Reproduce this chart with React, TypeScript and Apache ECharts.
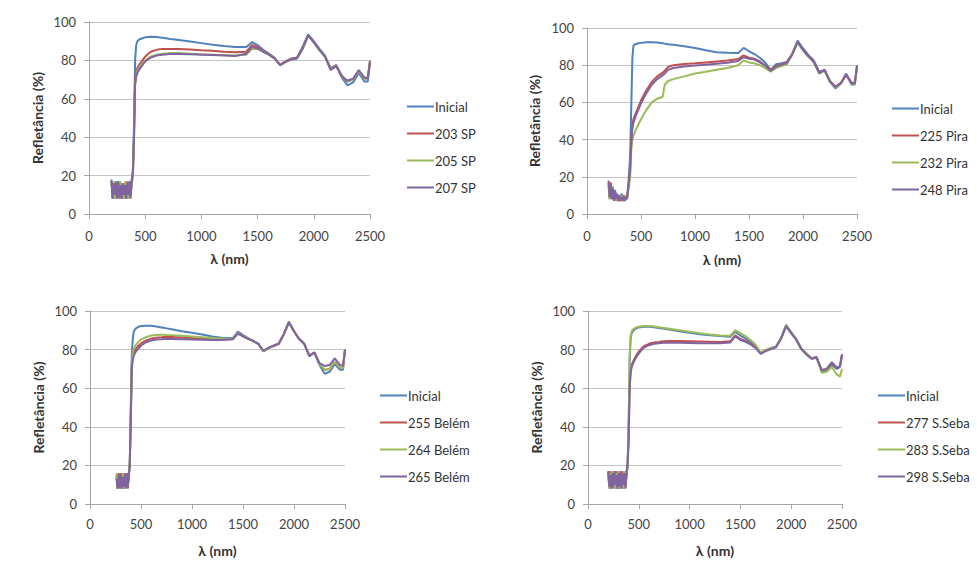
import React, { useEffect, useRef } from "react";
import * as echarts from "echarts";

const WL = [200,210,220,230,240,250,260,270,280,290,300,310,320,330,340,350,360,370,380,390,400,
  410,420,430,450,475,500,550,600,650,700,720,750,800,900,1000,1100,1200,1300,1400,1450,
  1500,1550,1600,1650,1700,1750,1800,1850,1900,1950,2000,2050,2100,2150,2200,2250,2300,2350,2400,2450,2480,2500];

const X_TICKS = [0, 500, 1000, 1500, 2000, 2500];
const Y_TICKS = [0, 20, 40, 60, 80, 100];

// Panel 1 - SP
const spInicial = [18,8,16,9,17,8,15,9,16,8,15,9,16,8,15,9,17,10,18,22, 45, 80,88,90,91,91.5,92,92.3,92.2,91.8,91.4,91.2,91,90.6,89.8,89,88.2,87.5,87,87,89.5, 88,85.5,83.5,81.5,77.5,79.5,81,81.5,87,93.5,90,86,82.5,76,77.5,71,67,68.5,73.5,69,69,79];
const sp203 = [17,9,15,8,16,9,17,8,15,10,16,8,15,9,17,8,16,9,17,20, 40, 70,74,76,78,80,82,84.5,85.5,86,86,86,86,86,85.7,85.3,85,84.5,84.2,84.5,88, 87,85,83.2,81.2,77.8,79.5,80.8,81.2,86.5,93,89.5,85.5,82,75.5,77.5,72,69,70,74.5,71,71,80];
const sp205 = [16,10,17,8,15,9,16,10,17,9,16,8,17,10,16,8,15,10,16,19, 38, 68,72,74.5,76.5,78.5,80,82,83,83.5,83.7,83.8,83.8,83.8,83.5,83.2,83,82.8,82.5,83,86, 86,84.5,83,81,77.5,79.2,80.5,81,86,92.8,89.3,85.3,82,75.2,77.2,71.5,69,70,74.5,70.5,70.5,79.5];
const sp207 = [17,8,16,10,15,8,17,9,15,8,16,10,15,8,16,10,17,8,17,21, 38, 67,71.5,73.5,75.5,77.5,79.5,81.5,82.5,83,83.2,83.3,83.3,83.3,83.2,83,82.8,82.6,82.3,83.5,87, 86.3,84.5,83,81,77.5,79.2,80.5,81,86,93,89.5,85.5,82,75,77,71.5,69.5,70.5,75,71,70.5,79.5];

// Panel 2 - Pira
const piraInicial = [17,8,15,9,14,7,13,8,10,7,9,7,11,8,9,7,8,9,14,22, 32, 58,84,90.5,91.3,91.8,92,92.3,92.4,92.2,91.8,91.6,91.3,91,90.2,89.3,88,87,86.7,86.5,89.3, 87.5,86,84,81.5,77.3,80.5,81,81.7,86,93.2,89,85.5,82.5,76.5,77.5,71,67.5,70,75.5,69.5,70,80];
const pira225 = [15,9,17,8,13,8,12,7,9,8,10,7,9,8,10,8,9,8,13,18, 25, 40,48,51,54,57.5,61,66.5,71,74,76,77,79,80,80.7,81,81.5,82,82.5,83.3,85.3, 84,83.5,82,80,77.5,79.5,80.5,81.5,86,92.5,88.5,85,82,76,77.5,71.5,68.5,70.5,75,70.5,70.5,79.5];
const pira232 = [16,8,14,9,15,8,11,7,10,8,9,8,10,7,9,8,10,9,12,16, 20, 35,40,42,45,48,51,56,60,62,63,69.5,71.5,72.5,74,75.5,76.5,77.5,78.5,80,82.5, 81.5,81,80,78.5,76.5,78.5,79.5,80.5,85.5,92,88,84.5,81.5,75.5,77,71,68,70,74.5,70,69.5,79];
const pira248 = [18,9,16,8,14,7,12,8,11,7,10,8,9,7,9,8,9,8,13,18, 25, 38,46,49,52.5,56,59.5,65,69.5,72.5,74.5,75.5,77.5,78.5,79.3,79.8,80.3,80.8,81.3,82.3,84.3, 83.5,83,81.5,79.8,77,79.2,80.3,81.2,85.8,92.5,88.3,84.8,81.8,75.8,77.3,71.2,68.3,70.3,74.8,70.2,70.2,79.3];

// Panel 3 - Belém
const belInicial = [null,null,null,null,null,null, 15,8,14,9,16,8,15,9,14,10,16,9,14,20, 50, 78,86,89.5,91,91.8,92.2,92.4,92.4,92,91.5,91.3,91,90.5,89.5,88.7,87.8,86.8,86,86,89.3, 87.5,86,84.5,83,79,80.8,82,83,88,94.5,89.5,85.5,83,77,78.5,72,67.5,68.5,72.5,69.5,69.5,80];
const bel255 = [null,null,null,null,null,null, 14,9,16,8,15,10,14,8,16,9,15,8,15,21, 45, 72,77,78.5,80.5,82,83.2,84.8,85.7,86.2,86.4,86.5,86.5,86.5,86.3,86,85.8,85.5,85.3,85.5,88.5, 87,85.8,84.5,83,79.2,80.8,82,83,88,94.2,89.5,85.5,83,77,78.5,72.5,69.5,70,73.5,70.5,70.5,80];
const bel264 = [null,null,null,null,null,null, 16,8,15,10,14,9,16,8,15,9,14,10,16,22, 47, 74,79,80.5,82.5,84,85.2,86.5,87.3,87.6,87.7,87.7,87.6,87.5,87.2,86.8,86.4,86,85.6,85.6,88.6, 87,85.8,84.5,83,79.2,80.8,82,83,88,94.2,89.5,85.5,83,77,78.5,72.5,69.5,70,73.5,70.5,70.5,80];
const bel265 = [null,null,null,null,null,null, 13,8,15,9,16,8,14,9,15,8,16,9,15,20, 44, 70,75,77,79,80.5,82,83.8,84.7,85.2,85.4,85.5,85.5,85.5,85.4,85.2,85.1,85,85,85.3,88.3, 86.8,85.5,84.5,83,79.5,81,82,83,88,94,89.5,85.5,83,76.5,78.5,73,71.5,72,75.5,72,71.5,80];

// Panel 4 - S.Seba
const sebInicial = [17,8,16,9,15,8,17,9,16,8,15,9,17,8,16,9,15,9,17,20, 40, 75,86,88.5,90,91,91.5,91.8,91.9,91.6,91.2,91,90.8,90.4,89.5,88.7,88,87.4,87,86.7,89.2, 87.3,85.8,84,81.5,78,79.5,80.7,81.5,86,92.8,89,85.5,80.5,78,75.5,76.2,68.5,69.5,72,70,71,77.5];
const seb277 = [16,9,17,8,15,10,16,8,17,9,16,8,15,10,17,8,16,9,16,19, 35, 62,69,72,74.5,77,79,81.8,83,83.7,84,84.2,84.3,84.4,84.4,84.3,84.2,84.1,84,84.3,87.4, 85.5,84.5,83,81,78,79.5,80.5,81.3,85.8,92.3,88.7,85.2,80.3,77.8,75.5,76,69.5,70,73,70.5,71.5,77];
const seb283 = [15,8,16,10,17,9,15,8,16,10,17,8,16,9,15,8,17,10,16,20, 42, 77,87,89.5,90.7,91.5,91.9,92.2,92.2,92,91.6,91.4,91.2,90.8,90,89.2,88.5,87.8,87.3,87.2,90, 88.5,87,85,82.5,78.5,79.8,80.8,81.5,86,92.5,88.8,85.3,80.3,77.8,75.3,75.8,68,68.5,71,67,66,70];
const seb298 = [17,9,15,8,16,9,17,10,15,8,16,9,17,8,15,10,16,8,17,21, 34, 60,68,71,73.5,76,78,81,82.3,83,83.3,83.4,83.5,83.5,83.5,83.4,83.3,83.3,83.3,83.7,86.8, 85,84,82.7,80.8,77.8,79.3,80.3,81.2,85.5,92,88.5,85,80.2,77.5,75.2,75.8,69.3,70,73.5,70.5,71.5,77.5];

const COLORS = ["#4F81BD", "#C0504D", "#9BBB59", "#8064A2"];

const PANELS = [
  { names: ["Inicial", "203 SP", "205 SP", "207 SP"], values: [spInicial, sp203, sp205, sp207] },
  { names: ["Inicial", "225 Pira", "232 Pira", "248 Pira"], values: [piraInicial, pira225, pira232, pira248] },
  { names: ["Inicial", "255 Belém", "264 Belém", "265 Belém"], values: [belInicial, bel255, bel264, bel265] },
  { names: ["Inicial", "277 S.Seba", "283 S.Seba", "298 S.Seba"], values: [sebInicial, seb277, seb283, seb298] },
];

const LAYOUT = [
  { grid: { left: 89, top: 22, width: 281, height: 192 }, legend: { left: 407, top: 100 }, xGap: 37, xMargin: 15, yGap: 45 },
  { grid: { left: 587, top: 28, width: 270, height: 186 }, legend: { left: 892, top: 102 }, xGap: 38, xMargin: 15, yGap: 46 },
  { grid: { left: 90, top: 311, width: 255, height: 193 }, legend: { left: 380, top: 389 }, xGap: 39, xMargin: 13, yGap: 45 },
  { grid: { left: 588, top: 311, width: 254, height: 193 }, legend: { left: 878, top: 389 }, xGap: 39, xMargin: 13, yGap: 45 },
];

const FONT = "Lato, 'Open Sans', sans-serif";

export default function App() {
  const ref = useRef<HTMLDivElement>(null);
  useEffect(() => {
    if (!ref.current) return;
    const chart = echarts.init(ref.current, undefined, { renderer: "svg" });
    const grid: any[] = [];
    const xAxis: any[] = [];
    const yAxis: any[] = [];
    const legend: any[] = [];
    const series: any[] = [];
    PANELS.forEach((p, i) => {
      const L = LAYOUT[i];
      grid.push({ ...L.grid, containLabel: false });
      xAxis.push({
        type: "value", gridIndex: i, min: X_TICKS[0], max: X_TICKS[X_TICKS.length - 1], interval: 500,
        name: "λ (nm)", nameLocation: "middle", nameGap: L.xGap,
        nameTextStyle: { fontFamily: FONT, fontWeight: "bold", fontSize: 14, color: "#333" },
        axisLine: { show: true, lineStyle: { color: "#a6a6a6", width: 1 } },
        axisTick: { show: true, length: 5, lineStyle: { color: "#a6a6a6" } },
        axisLabel: { fontFamily: FONT, fontSize: 13, color: "#444", margin: L.xMargin, formatter: (v: number) => String(v) },
        splitLine: { show: false },
      });
      yAxis.push({
        type: "value", gridIndex: i, min: Y_TICKS[0], max: Y_TICKS[Y_TICKS.length - 1], interval: 20,
        name: "Refletância (%)", nameLocation: "middle", nameGap: L.yGap,
        nameTextStyle: { fontFamily: FONT, fontWeight: "bold", fontSize: 14, color: "#333" },
        axisLine: { show: true, lineStyle: { color: "#a6a6a6", width: 1 } },
        axisTick: { show: true, length: 5, lineStyle: { color: "#a6a6a6" } },
        axisLabel: { fontFamily: FONT, fontSize: 13, color: "#444", margin: 13, formatter: (v: number) => String(v) },
        splitLine: { show: true, lineStyle: { color: "#c4c4c4", width: 1 } },
      });
      legend.push({
        orient: "vertical", left: L.legend.left, top: L.legend.top, padding: 0,
        icon: "rect", itemWidth: 27, itemHeight: 2, itemGap: 14,
        data: p.names,
        textStyle: { fontFamily: FONT, fontSize: 13, color: "#333", padding: [0, 0, 0, -4] },
        selectedMode: false,
      });
      p.names.forEach((name, k) => {
        const data: any[] = [];
        p.values[k].forEach((v, j) => { if (v !== null) data.push([WL[j], v]); });
        series.push({
          type: "line", name, xAxisIndex: i, yAxisIndex: i, data,
          symbol: "none", showSymbol: false,
          lineStyle: { color: COLORS[k], width: 2 },
          itemStyle: { color: COLORS[k] },
          z: 2 + k,
        });
      });
    });
    chart.setOption({
      animation: false,
      backgroundColor: "#ffffff",
      grid, xAxis, yAxis, legend, series,
    });
    return () => chart.dispose();
  }, []);
  return <div ref={ref} style={{ position: "fixed", left: 0, top: 0, width: 977, height: 568 }} />;
}
